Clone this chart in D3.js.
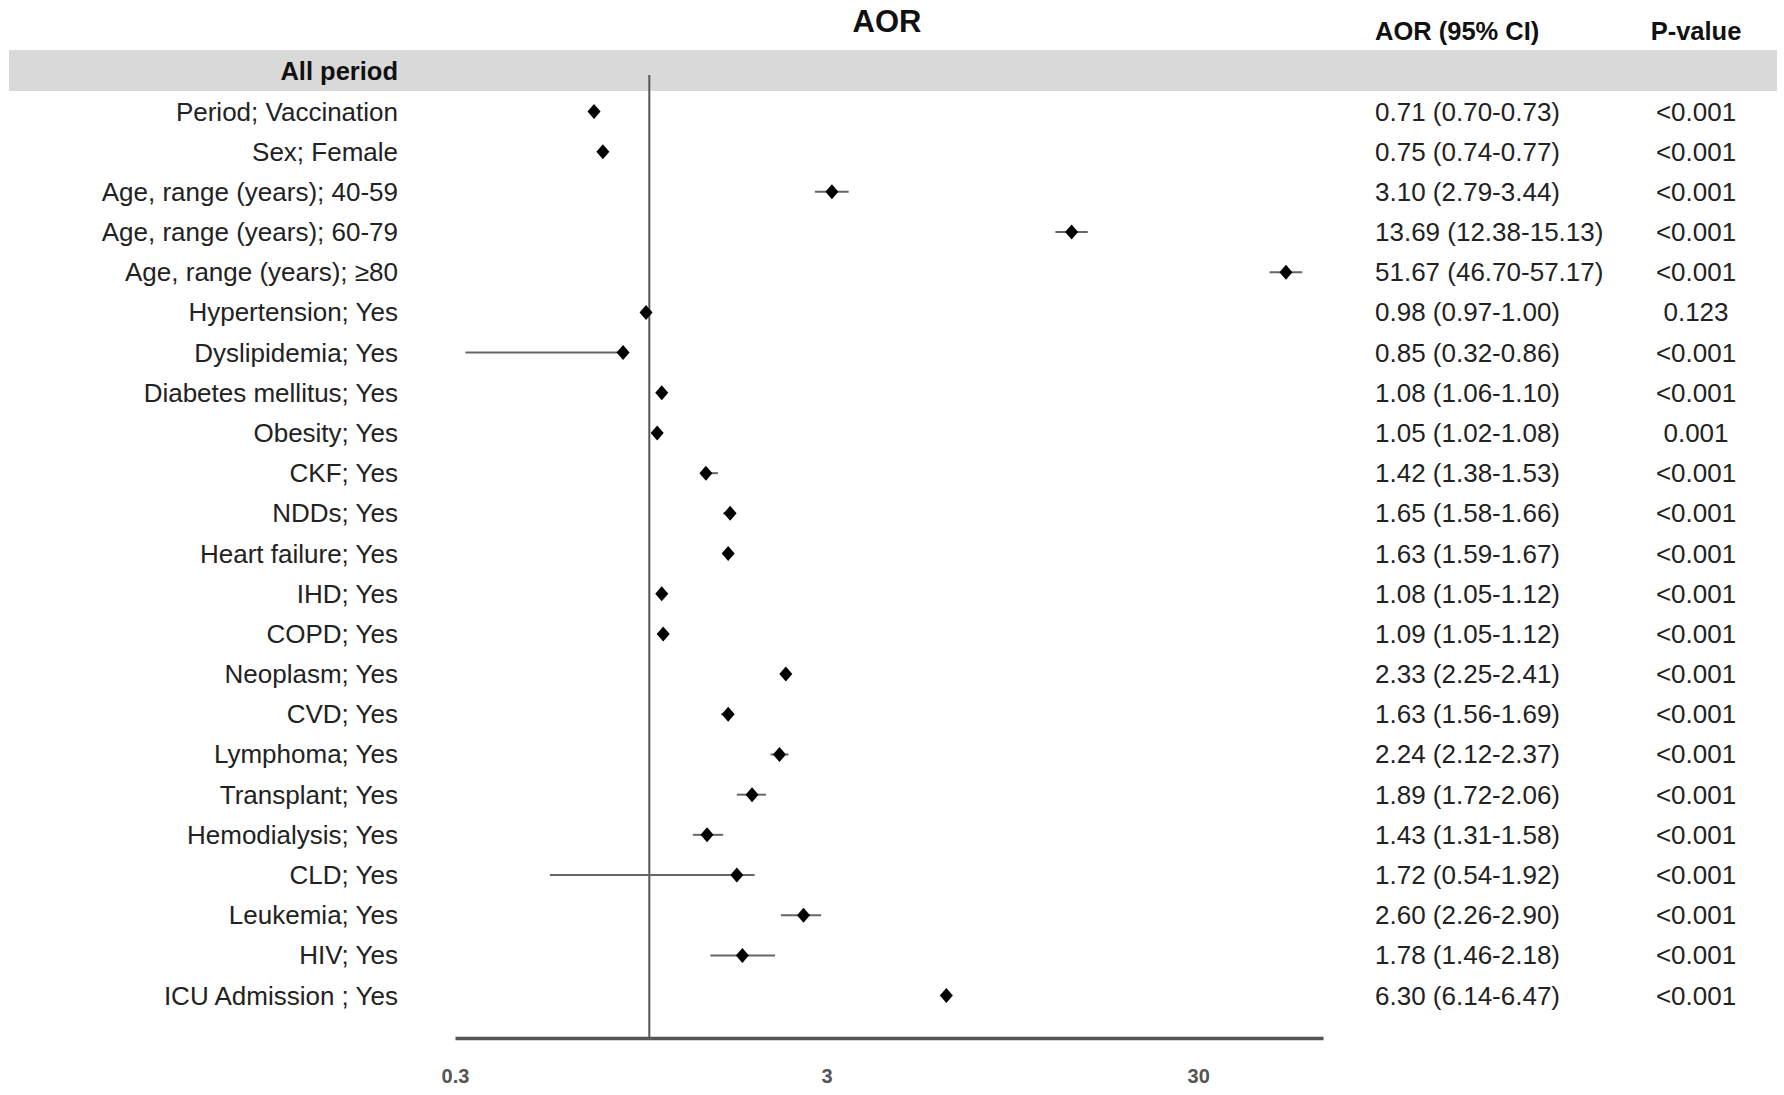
<!DOCTYPE html>
<html>
<head>
<meta charset="utf-8">
<script src="https://cdn.jsdelivr.net/npm/d3@7"></script>
<style>
  body { margin: 0; background: #fff; }
  svg { display: block; font-family: "Liberation Sans", Arial, sans-serif; }
  .lbl { font-size: 26px; fill: #222; }
  .hdr { font-size: 25.5px; font-weight: bold; fill: #111; }
  .tick text { font-size: 20px; font-weight: bold; fill: #555; }
</style>
</head>
<body>
<script>
// rows of the forest plot
var labels = [
  "Period; Vaccination", "Sex; Female", "Age, range (years); 40-59",
  "Age, range (years); 60-79", "Age, range (years); \u226580", "Hypertension; Yes",
  "Dyslipidemia; Yes", "Diabetes mellitus; Yes", "Obesity; Yes", "CKF; Yes",
  "NDDs; Yes", "Heart failure; Yes", "IHD; Yes", "COPD; Yes", "Neoplasm; Yes",
  "CVD; Yes", "Lymphoma; Yes", "Transplant; Yes", "Hemodialysis; Yes",
  "CLD; Yes", "Leukemia; Yes", "HIV; Yes", "ICU Admission ; Yes"
];
var aor   = [0.71, 0.75, 3.10, 13.69, 51.67, 0.98, 0.85, 1.08, 1.05, 1.42, 1.65, 1.63, 1.08, 1.09, 2.33, 1.63, 2.24, 1.89, 1.43, 1.72, 2.60, 1.78, 6.30];
var lower = [0.70, 0.74, 2.79, 12.38, 46.70, 0.97, 0.32, 1.06, 1.02, 1.38, 1.58, 1.59, 1.05, 1.05, 2.25, 1.56, 2.12, 1.72, 1.31, 0.54, 2.26, 1.46, 6.14];
var upper = [0.73, 0.77, 3.44, 15.13, 57.17, 1.00, 0.86, 1.10, 1.08, 1.53, 1.66, 1.67, 1.12, 1.12, 2.41, 1.69, 2.37, 2.06, 1.58, 1.92, 2.90, 2.18, 6.47];
var pvals = ["<0.001", "<0.001", "<0.001", "<0.001", "<0.001", "0.123", "<0.001", "<0.001", "0.001", "<0.001",
             "<0.001", "<0.001", "<0.001", "<0.001", "<0.001", "<0.001", "<0.001", "<0.001", "<0.001", "<0.001",
             "<0.001", "<0.001", "<0.001"];
var tickVals = [0.3, 3, 30];

var width = 1784, height = 1095;
var fmt = d3.format(".2f");

var rows = labels.map(function(l, i) {
  return { label: l, aor: aor[i], lo: lower[i], hi: upper[i], p: pvals[i] };
});

var x = d3.scaleLog().domain([0.3, 65]).range([455, 1323]);
var y = d3.scalePoint().domain(labels).range([111.5, 995.6]);
var axisY = 1038;

var svg = d3.select("body").append("svg")
  .attr("width", width)
  .attr("height", height);

// group header band
svg.append("rect")
  .attr("x", 9).attr("y", 50)
  .attr("width", 1768).attr("height", 41)
  .attr("fill", "#d9d9d9");

svg.append("text")
  .attr("class", "hdr")
  .attr("x", 398).attr("y", 71)
  .attr("text-anchor", "end")
  .attr("dominant-baseline", "central")
  .text("All period");

// column headers
svg.append("text")
  .attr("x", 887).attr("y", 21)
  .attr("text-anchor", "middle")
  .attr("dominant-baseline", "central")
  .attr("font-size", 31).attr("font-weight", "bold").attr("fill", "#111")
  .text("AOR");

svg.append("text")
  .attr("class", "hdr")
  .attr("x", 1375).attr("y", 31)
  .attr("dominant-baseline", "central")
  .text("AOR (95% CI)");

svg.append("text")
  .attr("class", "hdr")
  .attr("x", 1696).attr("y", 31)
  .attr("text-anchor", "middle")
  .attr("dominant-baseline", "central")
  .text("P-value");

// reference line at 1
svg.append("line")
  .attr("x1", x(1)).attr("x2", x(1))
  .attr("y1", 75).attr("y2", axisY)
  .attr("stroke", "#555").attr("stroke-width", 2);

// x axis
var xAxis = svg.append("g")
  .attr("transform", "translate(0," + axisY + ")")
  .call(d3.axisBottom(x).tickValues(tickVals).tickSize(0).tickPadding(31)
    .tickFormat(function(d) { return d; }));
xAxis.select(".domain").attr("stroke", "#555").attr("stroke-width", 3.5);
xAxis.selectAll(".tick text").attr("font-family", "Liberation Sans, Arial, sans-serif");

// row labels
svg.selectAll(".rowlbl")
  .data(rows).enter().append("text")
  .attr("class", "lbl rowlbl")
  .attr("x", 398)
  .attr("y", function(d) { return y(d.label); })
  .attr("text-anchor", "end")
  .attr("dominant-baseline", "central")
  .text(function(d) { return d.label; });

// CI lines
svg.selectAll(".ci")
  .data(rows).enter().append("line")
  .attr("class", "ci")
  .attr("x1", function(d) { return x(d.lo); })
  .attr("x2", function(d) { return x(d.hi); })
  .attr("y1", function(d) { return y(d.label); })
  .attr("y2", function(d) { return y(d.label); })
  .attr("stroke", "#666").attr("stroke-width", 2);

// point estimates
svg.selectAll(".pt")
  .data(rows).enter().append("path")
  .attr("class", "pt")
  .attr("transform", function(d) { return "translate(" + x(d.aor) + "," + y(d.label) + ")"; })
  .attr("d", "M0,-7.5L6.5,0L0,7.5L-6.5,0Z")
  .attr("fill", "#000");

// AOR (95% CI) column
svg.selectAll(".ciText")
  .data(rows).enter().append("text")
  .attr("class", "lbl ciText")
  .attr("x", 1375)
  .attr("y", function(d) { return y(d.label); })
  .attr("dominant-baseline", "central")
  .text(function(d) { return fmt(d.aor) + " (" + fmt(d.lo) + "-" + fmt(d.hi) + ")"; });

// P-value column
svg.selectAll(".pText")
  .data(rows).enter().append("text")
  .attr("class", "lbl pText")
  .attr("x", 1696)
  .attr("y", function(d) { return y(d.label); })
  .attr("text-anchor", "middle")
  .attr("dominant-baseline", "central")
  .text(function(d) { return d.p; });
</script>
</body>
</html>
